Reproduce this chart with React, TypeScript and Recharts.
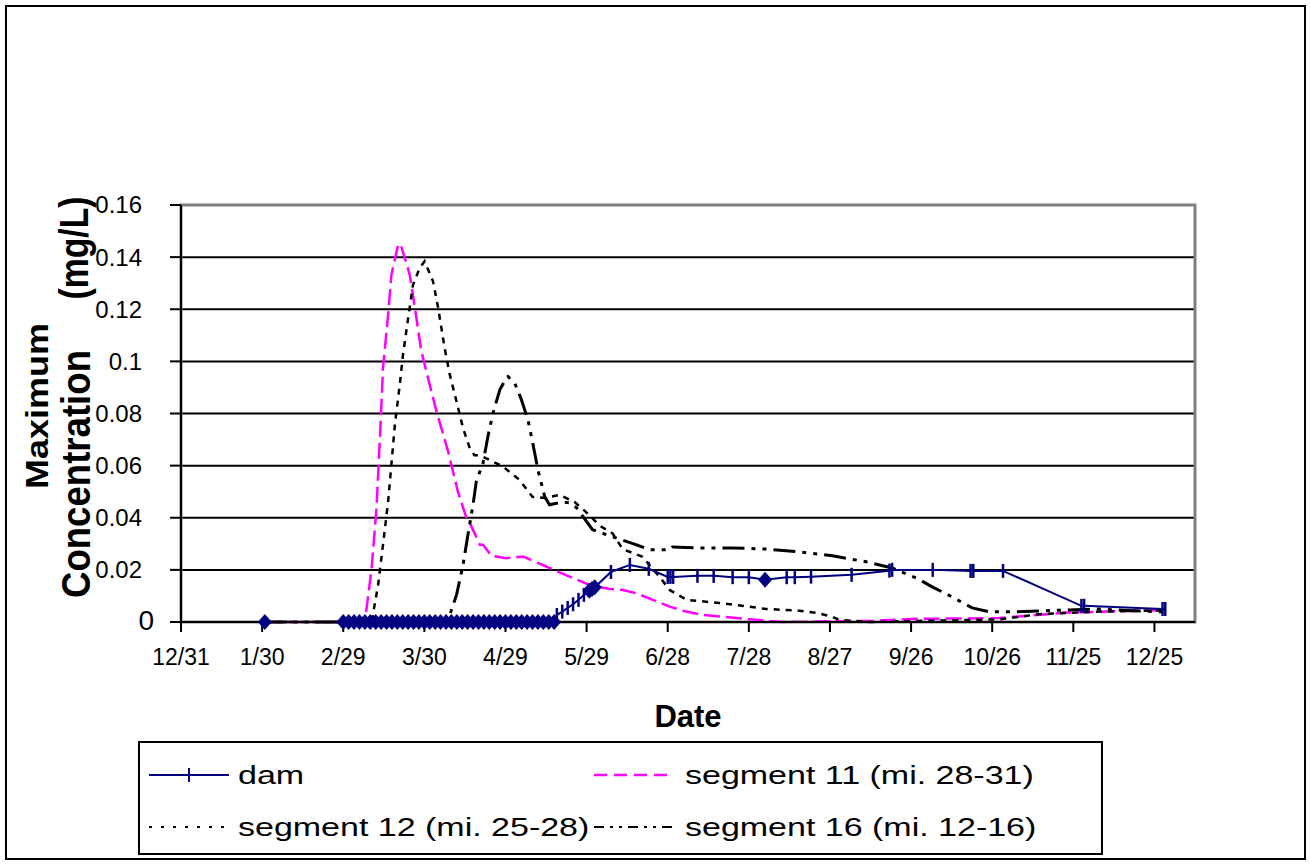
import React from "react";
import {
  LineChart,
  Line,
  XAxis,
  YAxis,
  CartesianGrid,
  Legend,
  ReferenceArea,
} from "recharts";

const FONT = '"Liberation Sans", Arial, sans-serif';

// x axis is days counted from 12/31
const xTickDays = [0, 30, 60, 90, 120, 150, 180, 210, 240, 270, 300, 330, 360];
const xTickLabels = [
  "12/31", "1/30", "2/29", "3/30", "4/29", "5/29", "6/28",
  "7/28", "8/27", "9/26", "10/26", "11/25", "12/25",
];
const yTicks = [0, 0.02, 0.04, 0.06, 0.08, 0.1, 0.12, 0.14, 0.16];
const yTickLabels = ["0", "0.02", "0.04", "0.06", "0.08", "0.1", "0.12", "0.14", "0.16"];

const damDays = [
  31, 60, 62, 64, 66, 68, 70, 72, 74, 76, 78, 80, 82, 84, 86, 88, 90, 92, 94,
  96, 98, 100, 102, 104, 106, 108, 110, 112, 114, 116, 118, 120, 122, 124, 126,
  128, 130, 132, 134, 136, 138, 139, 141, 143, 145, 147,
  149, 151, 152, 153, 159, 166, 173, 180, 181, 182, 191, 197, 204, 210, 216,
  224, 227, 233, 248, 262, 263, 278, 292, 293, 304, 333, 334, 363, 364,
];
const damValues = [
  0, 0, 0, 0, 0, 0, 0, 0, 0, 0, 0, 0, 0, 0, 0, 0, 0, 0, 0,
  0, 0, 0, 0, 0, 0, 0, 0, 0, 0, 0, 0, 0, 0, 0, 0,
  0, 0, 0, 0, 0, 0, 0.0027, 0.004, 0.0054, 0.0068, 0.0085,
  0.0104, 0.012, 0.0127, 0.0133, 0.0192, 0.0219, 0.0204, 0.0173, 0.0173, 0.0173, 0.0177, 0.0177, 0.0172, 0.0172, 0.0162,
  0.0172, 0.0172, 0.0174, 0.0181, 0.0197, 0.02, 0.02, 0.0196, 0.0196, 0.0196, 0.0062, 0.0062, 0.005, 0.005,
];
// dam points drawn with a diamond instead of the tick mark
const damDiamondDays = [
  31, 60, 62, 64, 66, 68, 70, 72, 74, 76, 78, 80, 82, 84, 86, 88, 90, 92, 94,
  96, 98, 100, 102, 104, 106, 108, 110, 112, 114, 116, 118, 120, 122, 124, 126,
  128, 130, 132, 134, 136, 138, 151, 152, 153, 216,
];

const seg11Days = [
  31, 60, 68, 70.5, 72.3, 73.8, 74.7, 76.6, 77.8, 80.3, 81.2, 84.6, 86.5, 88.9,
  92, 94.5, 98.8, 102.4, 105.6, 106.8, 109.5, 110.5, 111.7, 114.8, 120.3, 126.5,
  135.1, 143.7, 151.1, 158.5, 163.4, 168.4, 174.5, 180.7, 186.8, 193, 199.1,
  210.2, 222.4, 255.7, 271.9, 302.6, 327.3, 364.3,
];
const seg11Values = [
  0, 0, 0, 0.0207, 0.0437, 0.0757, 0.0974, 0.118, 0.1332, 0.1447, 0.145, 0.1332, 0.1205, 0.1038,
  0.091, 0.0808, 0.0654, 0.05, 0.0398, 0.0379, 0.032, 0.0296, 0.0296, 0.0254, 0.0245, 0.0251,
  0.0213, 0.0174, 0.0142, 0.0127, 0.0123, 0.011, 0.0085, 0.0059, 0.004, 0.0027, 0.0021,
  0.0011, 0, 0.0005, 0.0012, 0.0015, 0.0036, 0.0046,
];

const seg12Days = [
  31, 60, 70.6, 71, 72.9, 74.7, 76.6, 77.8, 79.1, 80.9, 82.1, 84, 85.8, 88.3,
  90.1, 93.2, 95.1, 97.5, 99.4, 101.9, 104.3, 106.8, 108.5, 110.5, 119, 125.2,
  130, 134.5, 140, 145.6, 150, 154.8, 159.6, 163.3, 170.7, 177, 180.7, 187,
  199.1, 216.5, 228.7, 235, 240.9, 243.5, 254.6, 276.7, 302.6, 317.4, 339.5, 364.3,
];
const seg12Values = [
  0, 0, 0, 0.003, 0.0142, 0.0296, 0.0462, 0.0603, 0.0757, 0.091, 0.1025, 0.1166, 0.1294, 0.1358,
  0.1384, 0.1307, 0.1205, 0.1051, 0.0949, 0.0846, 0.0744, 0.0667, 0.064, 0.064, 0.0597, 0.0545,
  0.048, 0.0476, 0.0488, 0.046, 0.042, 0.037, 0.034, 0.028, 0.025, 0.0173, 0.0123, 0.0085,
  0.0073, 0.005, 0.0043, 0.0035, 0.002, 0.0008, 0, 0.0005, 0.001, 0.003, 0.004, 0.0045,
];

const seg16Days = [
  31, 60, 99, 99.4, 101.9, 104.3, 106.1, 108, 109.2, 111.7, 113.5, 115.4, 117.9,
  120.3, 120.9, 123.4, 125.9, 128.3, 130.1, 132, 134.5, 136.3, 141.1, 143.7,
  146.3, 152.2, 159.6, 168.5, 173.3, 180.7, 181.8, 190.6, 203.9, 216.5, 228.7,
  240.9, 253.4, 263, 271.9, 277.8, 285.2, 292.6, 298.9, 308.9, 327.3, 339.5, 351.7, 362.8,
];
const seg16Values = [
  0, 0, 0, 0.0027, 0.0104, 0.0219, 0.0334, 0.045, 0.0539, 0.061, 0.0712, 0.0802, 0.0891,
  0.0936, 0.0942, 0.0917, 0.0853, 0.0776, 0.0686, 0.0584, 0.0481, 0.045, 0.046, 0.0457,
  0.0438, 0.0354, 0.0327, 0.0296, 0.0277, 0.0277, 0.0288, 0.0284, 0.0284, 0.028, 0.0269,
  0.0254, 0.0231, 0.0207, 0.0169, 0.0135, 0.0096, 0.0054, 0.0039, 0.0039, 0.0046, 0.005, 0.0043, 0.0039,
];

const zip = (days: number[], values: number[]) =>
  days.map((day, i) => ({ day, value: values[i] }));

const damData = zip(damDays, damValues);
const seg11Data = zip(seg11Days, seg11Values);
const seg12Data = zip(seg12Days, seg12Values);
const seg16Data = zip(seg16Days, seg16Values);

const NAVY = "#000080";
const MAGENTA = "#FF00FF";

const legendItems = [
  { name: "dam", color: NAVY, dash: undefined as string | undefined, width: 2, marker: true },
  { name: "segment 11 (mi. 28-31)", color: MAGENTA, dash: "13 7", width: 2.5, marker: false },
  { name: "segment 12 (mi. 25-28)", color: "#000", dash: "3 9", width: 2, marker: false },
  { name: "segment 16 (mi. 12-16)", color: "#000", dash: "10 6 3 6 3 6", width: 2, marker: false },
];

function DamDot(props: any) {
  const { cx, cy, payload, index } = props;
  if (cx == null || cy == null) return <g key={`d-${index}`} />;
  if (damDiamondDays.includes(payload.day)) {
    return (
      <path
        key={`d-${index}`}
        d={`M${cx},${cy - 8} L${cx + 7},${cy} L${cx},${cy + 8} L${cx - 7},${cy} Z`}
        fill={NAVY}
      />
    );
  }
  return (
    <line
      key={`d-${index}`}
      x1={cx}
      x2={cx}
      y1={cy - 7}
      y2={cy + 7}
      stroke={NAVY}
      strokeWidth={2.5}
    />
  );
}

function YTick(props: any) {
  const { x, y, payload } = props;
  const i = yTicks.findIndex((t) => Math.abs(t - payload.value) < 1e-9);
  const zero = i === 0;
  return (
    <text
      x={zero ? x + 12 : x}
      y={zero ? y - 2 : y}
      dy="0.35em"
      textAnchor="end"
      fontFamily={FONT}
      fontSize={zero ? 28 : 24}
      fill="#000"
    >
      {yTickLabels[i]}
    </text>
  );
}

function XTick(props: any) {
  const { x, y, payload } = props;
  const i = xTickDays.indexOf(payload.value);
  return (
    <text x={x} y={y} dy={33} textAnchor="middle" fontFamily={FONT} fontSize={23} fill="#000">
      {xTickLabels[i]}
    </text>
  );
}

function YTitle() {
  return (
    <g fontFamily={FONT} fontWeight="bold" fill="#000">
      <text
        transform="translate(48,406) rotate(-90)"
        textAnchor="middle"
        fontSize={32}
        textLength={166}
        lengthAdjust="spacingAndGlyphs"
      >
        Maximum
      </text>
      <text
        transform="translate(90,474) rotate(-90)"
        textAnchor="middle"
        fontSize={40}
        textLength={248}
        lengthAdjust="spacingAndGlyphs"
      >
        Concentration
      </text>
      <text
        transform="translate(88,248) rotate(-90)"
        textAnchor="middle"
        fontSize={40}
        textLength={103}
        lengthAdjust="spacingAndGlyphs"
      >
        (mg/L)
      </text>
    </g>
  );
}

function XTitle() {
  return (
    <text x={688} y={727} textAnchor="middle" fontFamily={FONT} fontWeight="bold" fontSize={31} fill="#000">
      Date
    </text>
  );
}

function LegendBox() {
  return (
    <svg width={965} height={114} style={{ display: "block" }}>
      <rect x={1} y={1} width={963} height={112} fill="#fff" stroke="#000" strokeWidth={2} />
      {legendItems.map((item, i) => {
        const col = i % 2;
        const row = Math.floor(i / 2);
        const sx = col === 0 ? 11 : 456;
        const tx = col === 0 ? 100 : 547;
        const cy = row === 0 ? 34 : 86;
        return (
          <g key={item.name}>
            <line
              x1={sx}
              x2={sx + 80}
              y1={cy}
              y2={cy}
              stroke={item.color}
              strokeWidth={item.width}
              strokeDasharray={item.dash}
            />
            {item.marker && (
              <line x1={sx + 40} x2={sx + 40} y1={cy - 7} y2={cy + 7} stroke={item.color} strokeWidth={2} />
            )}
            <g transform={`translate(${tx},${cy}) scale(1.36,1)`}>
              <text x={0} y={0} dy="0.35em" fontFamily={FONT} fontSize={25} fill="#000">
                {item.name}
              </text>
            </g>
          </g>
        );
      })}
    </svg>
  );
}

export default function App() {
  return (
    <div
      style={{
        position: "absolute",
        left: 0,
        top: 0,
        width: 1310,
        height: 864,
        background: "#fff",
      }}
    >
      <div
        style={{
          position: "absolute",
          left: 5,
          top: 5,
          width: 1301,
          height: 855,
          border: "2px solid #000",
          boxSizing: "border-box",
        }}
      />
      <LineChart
        width={1310}
        height={864}
        margin={{ top: 205, right: 115, bottom: 182, left: 0 }}
        style={{ position: "absolute", left: 0, top: 0 }}
      >
        <CartesianGrid vertical={false} stroke="#000" strokeWidth={2} />
        <ReferenceArea
          x1={0}
          x2={375}
          y1={0}
          y2={0.16}
          fill="none"
          stroke="#808080"
          strokeWidth={3}
          ifOverflow="visible"
        />
        <XAxis
          dataKey="day"
          type="number"
          domain={[0, 375]}
          ticks={xTickDays}
          height={60}
          interval={0}
          tickSize={10}
          tickMargin={0}
          axisLine={{ stroke: "#000", strokeWidth: 2 }}
          tickLine={{ stroke: "#000", strokeWidth: 2 }}
          tick={<XTick />}
          label={<XTitle />}
        />
        <YAxis
          type="number"
          domain={[0, 0.16]}
          ticks={yTicks}
          width={181}
          interval={0}
          tickSize={11}
          tickMargin={28}
          axisLine={{ stroke: "#000", strokeWidth: 2 }}
          tickLine={{ stroke: "#000", strokeWidth: 2 }}
          tick={<YTick />}
          label={<YTitle />}
        />
        <Legend
          layout="horizontal"
          verticalAlign="middle"
          align="center"
          wrapperStyle={{ left: 138, top: 741, width: 965, height: 114 }}
          content={<LegendBox />}
        />
        <Line
          data={seg11Data}
          dataKey="value"
          name="segment 11 (mi. 28-31)"
          type="linear"
          stroke={MAGENTA}
          strokeWidth={2.5}
          strokeDasharray="16 6"
          dot={false}
          activeDot={false}
          isAnimationActive={false}
        />
        <Line
          data={seg12Data}
          dataKey="value"
          name="segment 12 (mi. 25-28)"
          type="linear"
          stroke="#000"
          strokeWidth={2.5}
          strokeDasharray="6 6"
          dot={false}
          activeDot={false}
          isAnimationActive={false}
        />
        <Line
          data={seg16Data}
          dataKey="value"
          name="segment 16 (mi. 12-16)"
          type="linear"
          stroke="#000"
          strokeWidth={3}
          strokeDasharray="22 7 4 7 4 7"
          dot={false}
          activeDot={false}
          isAnimationActive={false}
        />
        <Line
          data={damData}
          dataKey="value"
          name="dam"
          type="linear"
          stroke={NAVY}
          strokeWidth={2}
          dot={<DamDot />}
          activeDot={false}
          isAnimationActive={false}
        />
      </LineChart>
    </div>
  );
}
